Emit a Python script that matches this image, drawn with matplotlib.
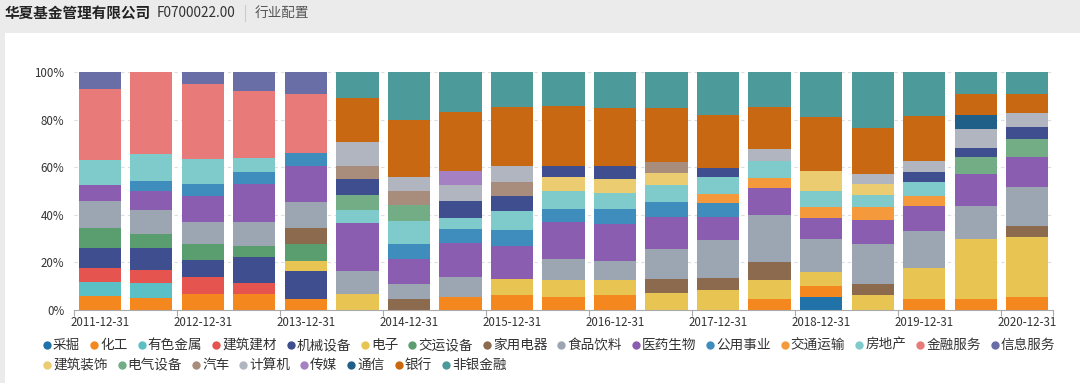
import numpy as np
import matplotlib.pyplot as plt
from matplotlib.lines import Line2D
from matplotlib.patches import Rectangle

plt.rcParams['font.family'] = ['Noto Sans CJK SC', 'DejaVu Sans']

# 报告期 (半年度)
dates = ['2011-12-31', '2012-06-30', '2012-12-31', '2013-06-30', '2013-12-31',
         '2014-06-30', '2014-12-31', '2015-06-30', '2015-12-31', '2016-06-30',
         '2016-12-31', '2017-06-30', '2017-12-31', '2018-06-30', '2018-12-31',
         '2019-06-30', '2019-12-31', '2020-06-30', '2020-12-31']

# 各行业占比 (%) - 从图上读取
mining = [0, 0, 0, 0, 0, 0, 0, 0, 0, 0, 0, 0, 0, 0, 5.3, 0, 0, 0, 0]
chemicals = [5.9, 5.0, 6.7, 6.7, 4.5, 0, 0, 5.6, 6.2, 5.3, 6.3, 0, 0, 4.8, 4.8, 0, 4.5, 4.8, 5.6]
nonferrous = [5.9, 6.4, 0, 0, 0, 0, 0, 0, 0, 0, 0, 0, 0, 0, 0, 0, 0, 0, 0]
construction_materials = [5.7, 5.3, 7.3, 4.8, 0, 0, 0, 0, 0, 0, 0, 0, 0, 0, 0, 0, 0, 0, 0]
machinery = [8.4, 9.5, 7.0, 10.9, 12.0, 0, 0, 0, 0, 0, 0, 0, 0, 0, 0, 0, 0, 0, 0]
electronics = [0, 0, 0, 0, 4.1, 6.6, 0, 0, 6.9, 7.3, 6.3, 7.3, 8.4, 7.6, 5.9, 6.2, 13.0, 25.1, 25.2]
transport_equipment = [8.4, 5.9, 6.6, 4.5, 7.0, 0, 0, 0, 0, 0, 0, 0, 0, 0, 0, 0, 0, 0, 0]
home_appliances = [0, 0, 0, 0, 6.7, 0, 4.5, 0, 0, 0, 0, 5.7, 5.2, 7.6, 0, 4.6, 0, 0, 4.6]
food_beverage = [11.6, 9.8, 9.2, 9.9, 10.9, 9.8, 6.3, 8.4, 0, 8.7, 8.0, 12.6, 15.8, 20.0, 13.9, 16.9, 15.7, 13.6, 16.4]
pharma = [6.6, 8.0, 11.1, 16.0, 15.5, 20.0, 10.6, 14.0, 14.0, 15.5, 15.5, 13.6, 9.8, 11.2, 8.7, 10.1, 10.5, 13.7, 12.3]
utilities = [0, 4.3, 5.0, 5.3, 5.3, 0, 6.3, 5.9, 6.6, 5.5, 6.2, 6.3, 5.9, 0, 0, 0, 0, 0, 0]
transportation = [0, 0, 0, 0, 0, 0, 0, 0, 0, 0, 0, 0, 3.6, 4.2, 4.5, 5.3, 4.3, 0, 0]
real_estate = [10.5, 11.2, 10.6, 5.7, 0, 5.6, 9.7, 4.9, 8.1, 7.8, 6.7, 7.0, 7.0, 7.0, 6.7, 5.2, 5.9, 0, 0]
financial_services = [29.7, 34.6, 31.5, 28.1, 24.8, 0, 0, 0, 0, 0, 0, 0, 0, 0, 0, 0, 0, 0, 0]
info_services = [7.3, 0, 5.0, 8.1, 9.2, 0, 0, 0, 0, 0, 0, 0, 0, 0, 0, 0, 0, 0, 0]
building_decoration = [0, 0, 0, 0, 0, 0, 0, 0, 0, 5.6, 5.9, 5.2, 0, 0, 8.4, 4.5, 0, 0, 0]
electrical_equipment = [0, 0, 0, 0, 0, 6.3, 6.7, 0, 0, 0, 0, 0, 0, 0, 0, 0, 0, 6.9, 7.7]
# 2014年申万新分类下的机械设备 (图例合并为同一项)
machinery_new = [0, 0, 0, 0, 0, 6.7, 0, 7.1, 5.9, 5.0, 5.6, 0, 4.1, 0, 0, 0, 4.2, 3.8, 5.2]
autos = [0, 0, 0, 0, 0, 5.5, 5.9, 0, 5.9, 0, 0, 4.5, 0, 0, 0, 0, 0, 0, 0]
computers = [0, 0, 0, 0, 0, 10.2, 6.0, 6.6, 7.0, 0, 0, 0, 0, 5.2, 0, 4.3, 4.6, 8.3, 5.9]
media = [0, 0, 0, 0, 0, 0, 0, 5.9, 0, 0, 0, 0, 0, 0, 0, 0, 0, 0, 0]
telecom = [0, 0, 0, 0, 0, 0, 0, 0, 0, 0, 0, 0, 0, 0, 0, 0, 0, 5.6, 0]
banks = [0, 0, 0, 0, 0, 18.5, 23.8, 24.9, 24.9, 24.9, 24.2, 22.5, 22.1, 17.5, 22.8, 19.5, 18.8, 8.8, 7.7]
non_bank = [0, 0, 0, 0, 0, 10.8, 20.2, 16.7, 14.5, 14.4, 15.3, 15.3, 18.1, 14.9, 19.0, 23.4, 18.5, 9.4, 9.4]

# (名称, 数据, 颜色, 是否显示在图例)
series = [
    ('采掘', mining, '#2172a8', True),
    ('化工', chemicals, '#f5871f', True),
    ('有色金属', nonferrous, '#5bbfc6', True),
    ('建筑建材', construction_materials, '#e5544f', True),
    ('机械设备', machinery, '#3e4e8e', True),
    ('电子', electronics, '#e8c453', True),
    ('交运设备', transport_equipment, '#5a9e6f', True),
    ('家用电器', home_appliances, '#8b6a4e', True),
    ('食品饮料', food_beverage, '#9ba6b2', True),
    ('医药生物', pharma, '#8b5db0', True),
    ('公用事业', utilities, '#3f8dbd', True),
    ('交通运输', transportation, '#f59a3c', True),
    ('房地产', real_estate, '#7fcbcc', True),
    ('金融服务', financial_services, '#e87b79', True),
    ('信息服务', info_services, '#6a6ea6', True),
    ('建筑装饰', building_decoration, '#ebcc70', True),
    ('电气设备', electrical_equipment, '#72ad86', True),
    ('机械设备', machinery_new, '#3e4e8e', False),
    ('汽车', autos, '#a98d7c', True),
    ('计算机', computers, '#b1b5bf', True),
    ('传媒', media, '#a580c3', True),
    ('通信', telecom, '#1f5f88', True),
    ('银行', banks, '#c96812', True),
    ('非银金融', non_bank, '#4d9a9a', True),
]

W, H = 1080, 383
fig = plt.figure(figsize=(W / 100, H / 100), dpi=100, facecolor='#ebebeb')


def fx(x):
    return x / W


def fy(y):
    return 1 - y / H


# 白色卡片背景
fig.patches.append(Rectangle((fx(5), 0), 1 - fx(5), fy(33), transform=fig.transFigure,
                             facecolor='white', edgecolor='none', zorder=-5))

# 标题
fig.text(fx(5), fy(13), '华夏基金管理有限公司', fontsize=10.5, fontweight='bold',
         color='#222222', va='center')
fig.text(fx(157), fy(13), 'F0700022.00', fontsize=9.8, color='#333333', va='center')
fig.add_artist(Line2D([fx(245), fx(245)], [fy(5), fy(21)], transform=fig.transFigure,
                      color='#cccccc', lw=0.8))
fig.text(fx(255), fy(13), '行业配置', fontsize=9.8, color='#555555', va='center')

ax = fig.add_axes([fx(74), fy(310), fx(1053) - fx(74), fy(72) - fy(310)])
ax.set_zorder(1)
ax.set_facecolor('white')

x = np.arange(len(dates))
data = np.array([s[1] for s in series], dtype=float)
totals = data.sum(axis=0)
bottom = np.zeros(len(dates))
for (name, vals, color, show), row in zip(series, data):
    pct = row / totals * 100
    ax.bar(x, pct, bottom=bottom, width=0.82, color=color, edgecolor='none', zorder=2)
    bottom += pct

ax.set_xlim(-0.5, len(dates) - 0.5)
ax.set_ylim(0, 100)
ax.set_yticks([0, 20, 40, 60, 80, 100])
ax.set_yticklabels(['0%', '20%', '40%', '60%', '80%', '100%'])
ax.tick_params(axis='y', length=0, pad=7, labelsize=8.3, labelcolor='#333333')
for yv in [20, 40, 60, 80, 100]:
    ax.axhline(yv, color='#dddddd', lw=0.8, ls=(0, (3, 3)), zorder=1)

ax.set_xticks(x[::2])
ax.set_xticklabels(dates[::2])
ax.set_xticks(np.arange(-0.5, len(dates), 2).tolist() + [len(dates) - 0.5], minor=True)
ax.tick_params(axis='x', which='major', length=0, pad=4, labelsize=8.3, labelcolor='#333333')
ax.tick_params(axis='x', which='minor', length=4, color='#aaaaaa', width=0.8)

for sp in ['top', 'right', 'left']:
    ax.spines[sp].set_visible(False)
ax.spines['bottom'].set_color('#aaaaaa')
ax.spines['bottom'].set_linewidth(0.8)

# 图例 (两行, 手动排版)
legend_items = [(s[0], s[2]) for s in series if s[3]]
rows = [legend_items[:15], legend_items[15:]]
row_y = [345, 365]
renderer = fig.canvas.get_renderer()
for items, yy in zip(rows, row_y):
    cx = 47
    for name, color in items:
        fig.add_artist(Line2D([fx(cx)], [fy(yy)], transform=fig.transFigure, marker='o',
                              markersize=6, color=color, markeredgewidth=0, linestyle='none'))
        t = fig.text(fx(cx + 6), fy(yy), name, fontsize=9.8, color='#333333', va='center')
        bb = t.get_window_extent(renderer)
        cx = bb.x1 + 14

fig.savefig('out.png', dpi=100, facecolor=fig.get_facecolor())
